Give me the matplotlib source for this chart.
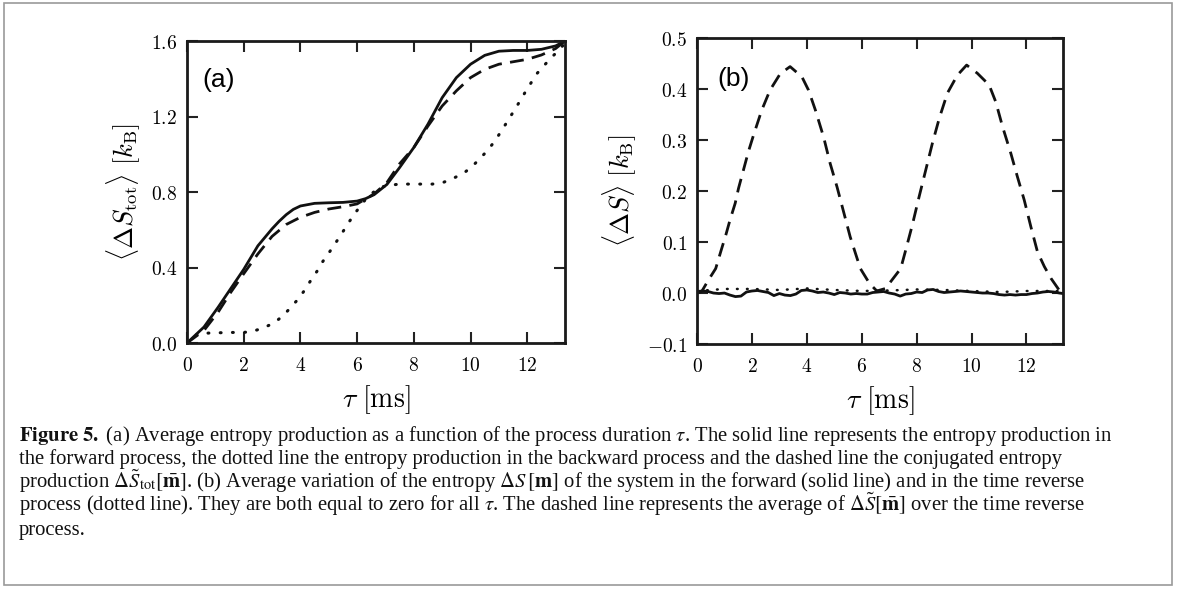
import matplotlib
matplotlib.use('Agg')
import matplotlib.pyplot as plt
from matplotlib.patches import Rectangle

plt.rcParams['mathtext.fontset'] = 'cm'

# ---- panel (a): <Delta S_tot> vs tau ----
a_solid_x = [0, 0.6, 1.1, 1.55, 2.0, 2.5, 3.0, 3.25, 3.5, 3.75, 4.0, 4.5, 5.0, 5.5, 6.0, 6.3, 6.6,
             7.05, 7.5, 8.0, 8.5, 9.0, 9.5, 10.0, 10.5, 11.0, 11.5, 12.0, 12.5, 13.0, 13.33]
a_solid_y = [0, 0.085, 0.19, 0.29, 0.39, 0.515, 0.605, 0.645, 0.68, 0.708, 0.726, 0.74, 0.743, 0.745, 0.752,
             0.765, 0.786, 0.84, 0.93, 1.036, 1.16, 1.30, 1.406, 1.477, 1.524, 1.546, 1.55, 1.55, 1.556,
             1.574, 1.6]

a_dash_x = [0, 0.6, 1.1, 1.55, 2.0, 2.5, 3.0, 3.5, 4.0, 4.5, 5.0, 5.5, 6.0, 6.6,
            7.05, 7.5, 8.0, 8.5, 9.0, 9.5, 10.0, 10.5, 11.0, 11.5, 12.0, 12.5, 13.0, 13.33]
a_dash_y = [0, 0.067, 0.164, 0.27, 0.367, 0.472, 0.565, 0.628, 0.666, 0.692, 0.71, 0.722, 0.737, 0.79,
            0.85, 0.95, 1.036, 1.15, 1.256, 1.336, 1.406, 1.45, 1.477, 1.49, 1.503, 1.526, 1.56, 1.6]

a_dot_x = [0, 0.38, 0.79, 1.55, 2.0, 2.34, 2.71, 3.06, 3.38, 3.65, 3.91, 4.14, 4.35, 4.58,
           4.79, 5.02, 5.24, 5.45, 5.67, 5.88, 6.08, 6.26, 6.5, 6.8, 7.06, 7.47, 7.86, 8.26,
           8.65, 9.04, 9.41, 9.76, 10.06, 10.35, 10.62, 10.86, 11.09, 11.29, 11.51, 11.71,
           11.92, 12.14, 12.35, 12.61, 12.88, 13.15, 13.33]
a_dot_y = [0, 0.049, 0.053, 0.056, 0.056, 0.063, 0.081, 0.106, 0.143, 0.187, 0.231, 0.278, 0.328, 0.379,
           0.432, 0.481, 0.53, 0.578, 0.631, 0.678, 0.719, 0.754, 0.79, 0.825, 0.833, 0.842, 0.842, 0.842,
           0.842, 0.851, 0.874, 0.90, 0.936, 0.98, 1.024, 1.071, 1.124, 1.172, 1.225, 1.274,
           1.327, 1.38, 1.429, 1.473, 1.517, 1.556, 1.59]

# ---- panel (b): <Delta S> vs tau ----
b_dash_x = [0, 0.17, 0.41, 0.68, 0.88, 1.05, 1.2, 1.39, 1.51, 1.69, 1.87, 2.06, 2.36, 2.66, 3.03,
            3.39, 3.82, 4.06, 4.31, 4.61, 4.85, 5.1, 5.34, 5.58, 5.77, 5.95, 6.28, 6.55, 6.87,
            7.05, 7.42, 7.6, 7.84, 8.09, 8.33, 8.57, 8.82, 9.12, 9.48, 9.82, 10.21, 10.64,
            10.88, 11.13, 11.43, 11.67, 11.92, 12.16, 12.4, 12.65, 12.89, 13.2]
b_dash_y = [0, 0.003, 0.025, 0.048, 0.084, 0.114, 0.143, 0.176, 0.205, 0.241, 0.277, 0.31, 0.359, 0.398, 0.43,
            0.444, 0.424, 0.398, 0.359, 0.306, 0.254, 0.208, 0.159, 0.11, 0.078, 0.048, 0.019, 0.004, 0.009,
            0.022, 0.048, 0.084, 0.133, 0.189, 0.241, 0.293, 0.342, 0.392, 0.427, 0.447, 0.431, 0.408,
            0.375, 0.326, 0.274, 0.228, 0.182, 0.13, 0.081, 0.052, 0.029, 0.005]

b_solid_x = [0, 0.2, 0.4, 0.6, 0.8, 1.0, 1.2, 1.4, 1.6, 1.8, 2.0, 2.2, 2.4, 2.6, 2.8, 3.0, 3.2,
             3.4, 3.6, 3.8, 4.0, 4.2, 4.4, 4.6, 4.8, 5.0, 5.2, 5.4, 5.6, 5.8, 6.0, 6.2, 6.4,
             6.6, 6.8, 7.0, 7.2, 7.4, 7.6, 7.8, 8.0, 8.2, 8.4, 8.6, 8.8, 9.0, 9.2, 9.4, 9.6,
             9.8, 10.0, 10.2, 10.4, 10.6, 10.8, 11.0, 11.2, 11.4, 11.6, 11.8, 12.0, 12.2, 12.4,
             12.6, 12.8, 13.0, 13.2, 13.33]
b_solid_y = [0.003, 0.004, 0.003, 0.0, -0.001, 0.0, -0.004, -0.007, -0.006, 0.002, 0.004, 0.005, 0.003,
             0.001, -0.005, -0.001, -0.004, -0.005, -0.002, 0.005, 0.006, 0.004, 0.001, 0.002, 0.0,
             -0.003, 0.001, 0.0, -0.002, -0.001, -0.002, -0.002, 0.001, 0.002, 0.003, 0.0, -0.002,
             -0.006, -0.002, -0.001, 0.002, 0.001, 0.006, 0.007, 0.003, 0.001, 0.002, 0.003, 0.004,
             0.003, 0.002, 0.001, 0.0, 0.0, -0.001, -0.003, -0.004, -0.003, -0.004, -0.003, -0.003,
             -0.001, 0.0, 0.002, 0.003, 0.002, 0.0, -0.001]

b_dot_x = [0, 1.0, 2.0, 3.0, 4.0, 5.0, 6.0, 7.0, 8.0, 9.0, 10.0, 11.0, 12.0, 13.33]
b_dot_y = [0.004, 0.008, 0.008, 0.006, 0.009, 0.006, 0.004, 0.005, 0.007, 0.006, 0.004, 0.002, 0.004, 0.004]

xticks = [0, 2, 4, 6, 8, 10, 12]
a_yticks = [0.0, 0.4, 0.8, 1.2, 1.6]
b_yticks = [-0.1, 0.0, 0.1, 0.2, 0.3, 0.4, 0.5]

caption = [
    r"$\mathbf{Figure\ 5.}$ (a) Average entropy production as a function of the process duration $\tau$. "
    r"The solid line represents the entropy production in",
    "the forward process, the dotted line the entropy production in the backward process and the dashed "
    "line the conjugated entropy",
    r"production $\Delta\tilde{S}_{\rm tot}[\bar{\mathbf{m}}]$. (b) Average variation of the entropy "
    r"$\Delta S\,[\mathbf{m}]$ of the system in the forward (solid line) and in the time reverse",
    r"process (dotted line). They are both equal to zero for all $\tau$. The dashed line represents the "
    r"average of $\Delta\tilde{S}[\bar{\mathbf{m}}]$ over the time reverse",
    "process.",
]

fig = plt.figure(figsize=(11.79, 5.90), dpi=100)

axa = fig.add_axes([0.1586, 0.4186, 0.3206, 0.5119])
axb = fig.add_axes([0.5912, 0.4169, 0.3104, 0.5186])

dash = (0, (5, 3))
dot = (0, (0.3, 3.7))

axa.plot(a_solid_x, a_solid_y, color='#111111', lw=2.0)
axa.plot(a_dash_x, a_dash_y, color='#111111', lw=2.0, ls=dash)
axa.plot(a_dot_x, a_dot_y, color='#111111', lw=2.2, ls=dot, dash_capstyle='round')

axb.plot(b_dot_x, b_dot_y, color='#111111', lw=1.8, ls=dot, dash_capstyle='round')
axb.plot(b_solid_x, b_solid_y, color='#111111', lw=2.0)
axb.plot(b_dash_x, b_dash_y, color='#111111', lw=2.0, ls=dash)

for ax, yt, ylo, yhi in [(axa, a_yticks, 0.0, 1.6), (axb, b_yticks, -0.1, 0.5)]:
    ax.set_xlim(0, 13.33)
    ax.set_ylim(ylo, yhi)
    ax.set_xticks(xticks)
    ax.set_xticklabels([r"$%d$" % t for t in xticks])
    ax.set_yticks(yt)
    ax.set_yticklabels([r"$%.1f$" % t for t in yt])
    ax.tick_params(direction='in', top=True, right=True, length=8, width=1.5,
                   labelsize=14, color='#222222')
    ax.tick_params(axis='x', pad=9)
    ax.tick_params(axis='y', pad=7)
    for s in ax.spines.values():
        s.set_linewidth(2.0)
        s.set_color('#1a1a1a')
    ax.set_xlabel(r"$\tau\ [\mathrm{ms}]$", fontsize=20, labelpad=6)

axa.set_ylabel(r"$\langle \Delta S_{\mathrm{tot}} \rangle\ [k_{\mathrm{B}}]$", fontsize=19, labelpad=6)
axb.set_ylabel(r"$\langle \Delta S \rangle\ [k_{\mathrm{B}}]$", fontsize=19, labelpad=6)

axa.text(0.04, 0.91, "(a)", transform=axa.transAxes, fontsize=19,
         family='Liberation Sans', va='top', ha='left')
axb.text(0.055, 0.905, "(b)", transform=axb.transAxes, fontsize=19,
         family='Liberation Sans', va='top', ha='left')

# caption box
fig.patches.append(Rectangle((4 / 1179, 5 / 590), 1168 / 1179, 582 / 590,
                             transform=fig.transFigure, fill=False,
                             edgecolor='#9a9a9a', lw=1.2))
for i, line in enumerate(caption):
    y = 441 + 23.4 * i
    fig.text(19 / 1179, 1 - y / 590, line, fontsize=14.9, family='Liberation Serif',
             math_fontfamily='stix', va='baseline', ha='left', color='#111111')

fig.savefig('out.png', dpi=100)
